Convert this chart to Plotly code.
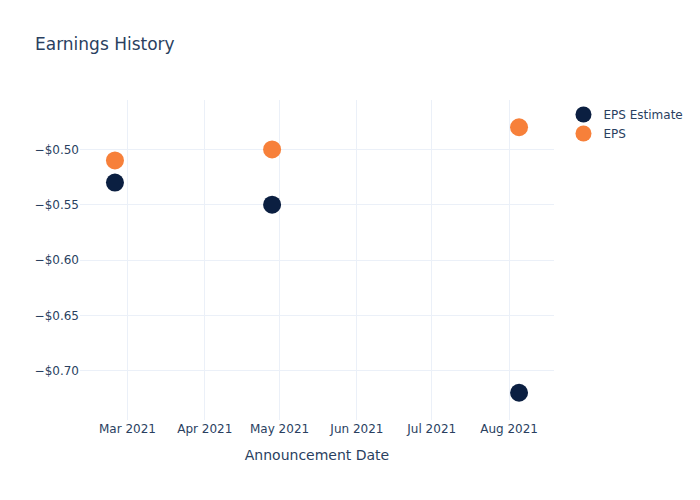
import plotly.graph_objects as go

dates = ["2021-02-24", "2021-04-28", "2021-08-05"]
eps_estimate = [-0.53, -0.55, -0.72]
eps_actual = [-0.51, -0.50, -0.48]
y_tick_vals = [-0.70, -0.65, -0.60, -0.55, -0.50]
y_tick_text = ["\u2212$0.70", "\u2212$0.65", "\u2212$0.60", "\u2212$0.55", "\u2212$0.50"]

fig = go.Figure()
fig.add_trace(go.Scatter(x=dates, y=eps_estimate, mode="markers", name="EPS Estimate",
                         marker=dict(color="#0b1f41", size=18)))
fig.add_trace(go.Scatter(x=dates, y=eps_actual, mode="markers", name="EPS",
                         marker=dict(color="#f7803a", size=18)))
fig.update_layout(
    template="plotly_white",
    width=700, height=500,
    font=dict(family="DejaVu Sans"),
    title=dict(text="Earnings History"),
    xaxis=dict(title=dict(text="Announcement Date")),
    yaxis=dict(tickmode="array", tickvals=y_tick_vals, ticktext=y_tick_text),
)
fig.write_html("out.html")
